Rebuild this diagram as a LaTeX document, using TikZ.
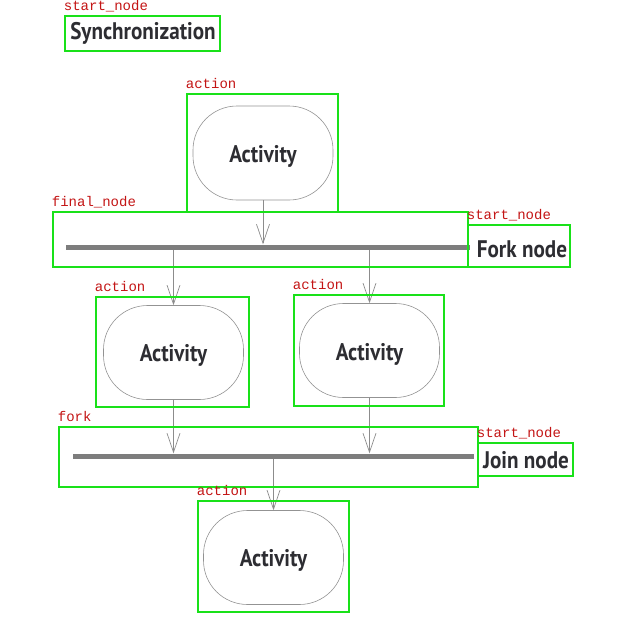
\documentclass[tikz,border=0pt]{standalone}
\usepackage{fontspec}
\setmainfont{PT Sans}
\newfontfamily\diafont[FakeStretch=0.88]{PT Sans}
\newfontfamily\tagfont{Liberation Mono}
\usepackage{tikz}
\usetikzlibrary{arrows.meta}
\definecolor{boxgreen}{RGB}{25,225,25}
\definecolor{tagred}{RGB}{195,20,20}
\definecolor{bargray}{RGB}{125,125,125}
\definecolor{inkgray}{RGB}{45,45,50}

\begin{document}
\begin{tikzpicture}[x=1pt,y=-1pt,
	activity/.style={draw=gray!85,line width=0.6pt,rounded corners=44pt,minimum width=140pt,minimum height=94pt,font=\diafont\bfseries\fontsize{24}{26}\selectfont,text=inkgray,text depth=0pt},
	bar/.style={fill=bargray,inner sep=0pt,minimum height=5pt},
	caption/.style={font=\diafont\bfseries\fontsize{24}{26}\selectfont,text=inkgray,inner sep=0pt,anchor=base},
	flow/.style={draw=gray!90,line width=0.7pt,-{Straight Barb[length=19pt,width=13pt]}},
	annot/.style={draw=boxgreen,line width=2.6pt,inner sep=0pt},
	tag/.style={font=\tagfont\fontsize{14}{15}\selectfont,text=tagred,inner sep=0pt,anchor=base west,xshift=0pt,yshift=4pt}]
		\useasboundingbox (0,0) rectangle (640,640);
		% diagram
		\node[caption] (sync) at (143,39.5) {Synchronization};
		\node[activity,text height=19.5pt] (act1) at (263,153) {Activity};
		\node[bar,minimum width=404pt] (forkbar) at (268,247) {};
		\node[caption] (forklbl) at (522,257) {Fork node};
		\node[activity,text height=18pt] (act2) at (173.5,352.5) {Activity};
		\node[activity,text height=19pt] (act3) at (369.5,350.5) {Activity};
		\node[bar,minimum width=401pt] (joinbar) at (273.5,456) {};
		\node[caption] (joinlbl) at (526,468) {Join node};
		\node[activity,text height=17pt] (act4) at (273.5,557.5) {Activity};
		\draw[flow] (act1.south) -- (act1.south |- forkbar.north);
		\draw[flow] (forkbar.south -| act2.north) -- (act2.north);
		\draw[flow] (forkbar.south -| act3.north) -- (act3.north);
		\draw[flow] (act2.south) -- (act2.south |- joinbar.north);
		\draw[flow] (act3.south) -- (act3.south |- joinbar.north);
		\draw[flow] (joinbar.south -| act4.north) -- (act4.north);
		% detection boxes
		\node[annot,minimum width=155pt,minimum height=35pt] (b-sync) at (142.5,33.5) {};
		\node[tag] (t-sync) at (b-sync.north west) {start\_node};
		\node[annot,minimum width=151pt,minimum height=118pt] (b-act1) at (262.5,153) {};
		\node[tag] (t-act1) at (b-act1.north west) {action};
		\node[annot,minimum width=415pt,minimum height=55pt] (b-fork) at (260.5,239.5) {};
		\node[tag] (t-fork) at (b-fork.north west) {final\_node};
		\node[annot,minimum width=102pt,minimum height=42pt] (b-forklbl) at (519,246) {};
		\node[tag] (t-forklbl) at (b-forklbl.north west) {start\_node};
		\node[annot,minimum width=153pt,minimum height=110pt] (b-act2) at (172.5,352) {};
		\node[tag] (t-act2) at (b-act2.north west) {action};
		\node[annot,minimum width=150pt,minimum height=111pt] (b-act3) at (369,350.5) {};
		\node[tag] (t-act3) at (b-act3.north west) {action};
		\node[annot,minimum width=419pt,minimum height=60pt] (b-join) at (268.5,457) {};
		\node[tag] (t-join) at (b-join.north west) {fork};
		\node[annot,minimum width=95pt,minimum height=33pt] (b-joinlbl) at (525.5,459.5) {};
		\node[tag] (t-joinlbl) at (b-joinlbl.north west) {start\_node};
		\node[annot,minimum width=151pt,minimum height=111pt] (b-act4) at (273.5,556.5) {};
		\node[tag] (t-act4) at (b-act4.north west) {action};
	\end{tikzpicture}
\end{document}
